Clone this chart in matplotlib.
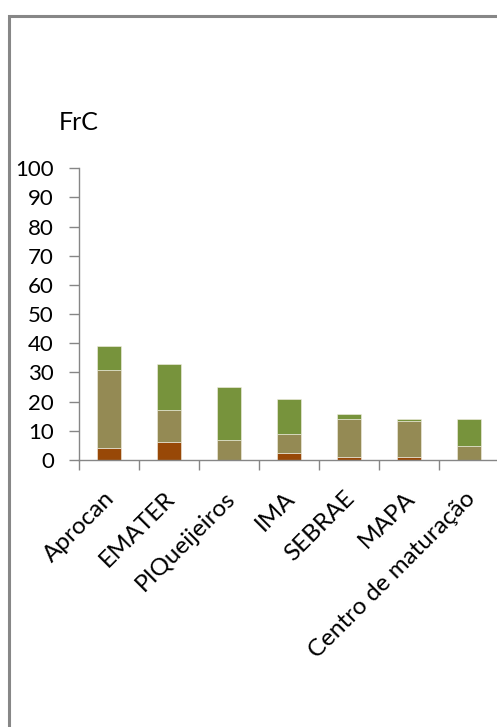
import matplotlib
matplotlib.use('Agg')
from matplotlib import pyplot as plt
from matplotlib.patches import Rectangle
import numpy as np

# values
categories = ['Aprocan', 'EMATER', 'PIQueijeiros', 'IMA', 'SEBRAE', 'MAPA',
              'Centro de maturação']
seg_bottom = [4.0, 6.2, 0.0, 2.3, 1.0, 1.0, 0.0]
seg_middle = [26.7, 10.9, 7.0, 6.5, 13.0, 12.2, 4.9]
seg_top = [8.5, 15.9, 18.0, 12.2, 1.9, 0.8, 9.1]
y_ticks = list(range(0, 101, 10))
title = 'FrC'

plt.rcParams['font.family'] = ['Lato', 'DejaVu Sans']

W, H = 497, 727
fig = plt.figure(figsize=(W / 100, H / 100), dpi=100)

# gray frame of the original chart area (right and bottom are cropped off)
fig.patches.append(Rectangle((9 / W, -0.05), 1.2, 1.05 - 16 / H,
                             transform=fig.transFigure, fill=False,
                             edgecolor='#878787', linewidth=2.2))

ax = fig.add_axes([79 / W, (H - 460) / H, 420 / W, 291.7 / H])

x = np.arange(len(categories))
bw = 0.4
bottom = np.array(seg_bottom)
middle = np.array(seg_middle)
top = np.array(seg_top)

ax.bar(x, bottom, bw, color='#984807', edgecolor='#f4f0e6', linewidth=0.4)
ax.bar(x, middle, bw, bottom=bottom, color='#948A54', edgecolor='#f4f0e6', linewidth=0.4)
ax.bar(x, top, bw, bottom=bottom + middle, color='#77933C', edgecolor='#f4f0e6', linewidth=0.4)

ax.set_xlim(-0.5, len(categories) - 0.5)
ax.set_ylim(0, 100)
ax.set_yticks(y_ticks)
ax.set_xticks(np.arange(len(categories) + 1) - 0.5, minor=False)
ax.set_xticklabels([])
ax.set_xticks(x - 0.08, minor=True)
ax.set_xticklabels(categories, minor=True, rotation=45, ha='right',
                   va='top', rotation_mode='anchor', fontsize=17.5)
ax.tick_params(axis='x', which='minor', length=0, pad=20)
ax.tick_params(axis='x', which='major', length=7, color='#868686', width=1)
ax.tick_params(axis='y', length=7, color='#868686', width=1, labelsize=16, pad=11)

for s in ['top', 'right']:
    ax.spines[s].set_visible(False)
for s in ['left', 'bottom']:
    ax.spines[s].set_color('#868686')
    ax.spines[s].set_linewidth(1)

fig.text(79 / W, (H - 130) / H, title, ha='center', va='baseline', fontsize=18)

fig.savefig('out.png', dpi=100)
